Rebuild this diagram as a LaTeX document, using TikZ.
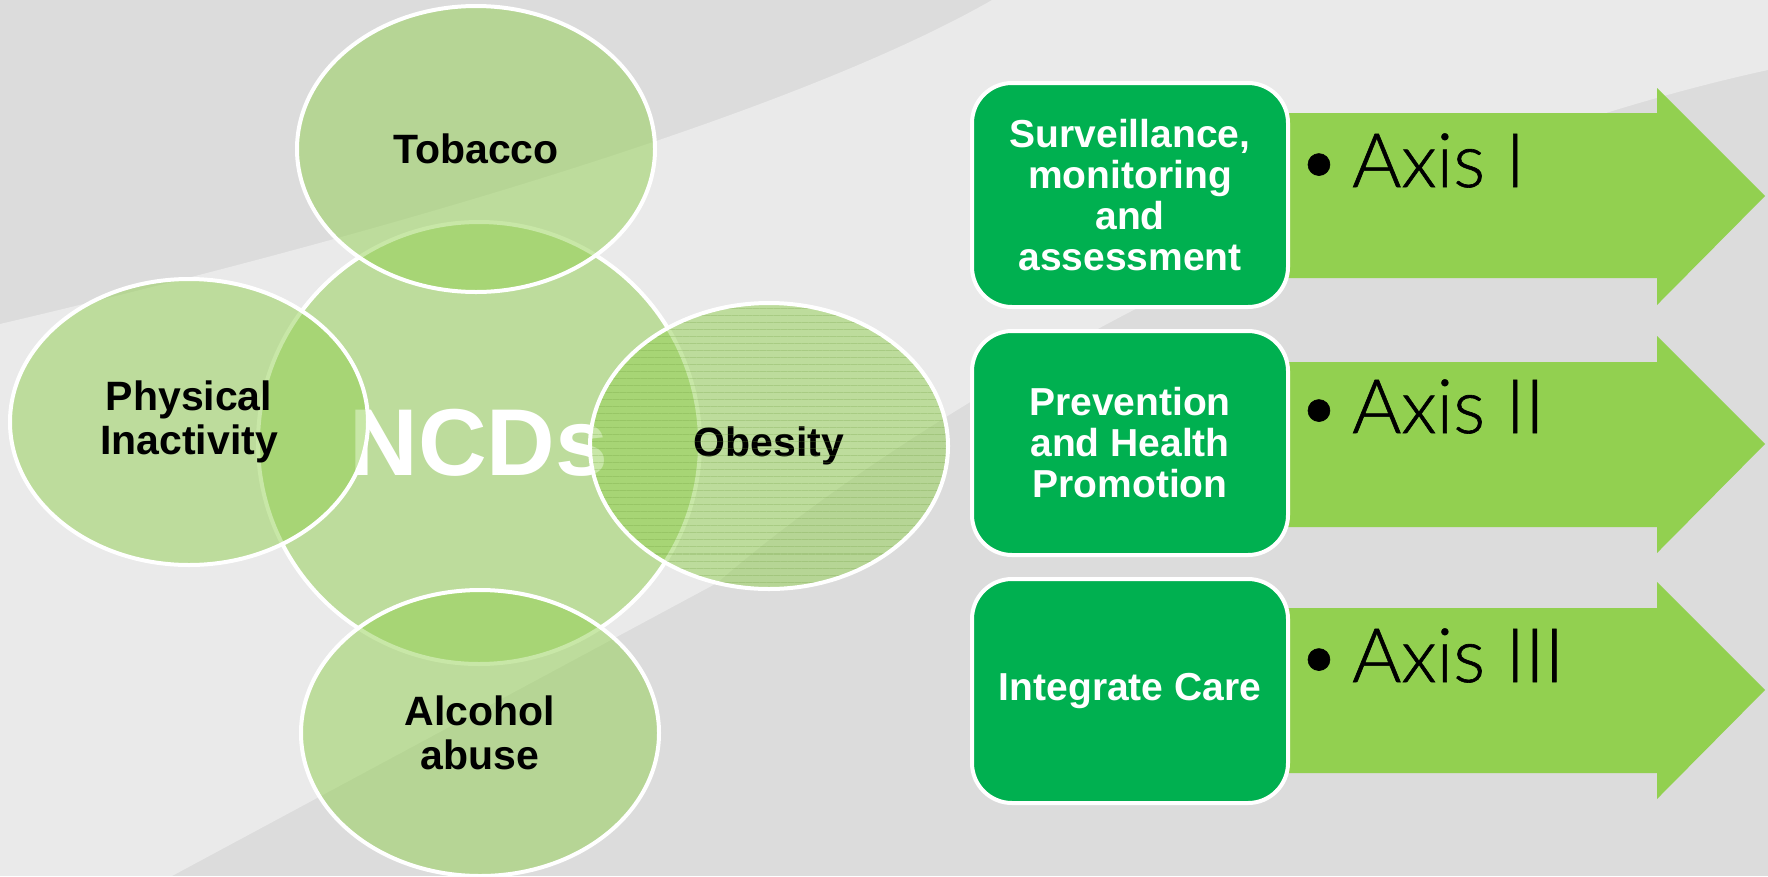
\documentclass[tikz,border=0pt]{standalone}
\usepackage{fontspec}
\setmainfont{Liberation Sans}
\newfontfamily\axisfont{Lato}[UprightFont=* Light,FakeBold=0.8]
\usetikzlibrary{shapes.geometric,patterns.meta}
\definecolor{leaf}{RGB}{146,208,80}
\definecolor{boxgreen}{RGB}{0,176,80}
\definecolor{bggray}{RGB}{220,220,220}

\begin{document}
\begin{tikzpicture}[x=1pt,y=-1pt,
  bubble/.style={ellipse,draw=white,line width=4pt,fill=leaf,fill opacity=.5,text opacity=1,
    minimum width=358pt,minimum height=286pt,inner sep=0pt,align=center,
    font=\fontsize{41}{44}\selectfont\bfseries},
  hub/.style={circle,draw=white,line width=4pt,fill=leaf,fill opacity=.5,text opacity=1,
    minimum size=442pt,inner sep=0pt,text=white,font=\fontsize{95}{95}\selectfont\bfseries},
  panel/.style={rectangle,rounded corners=40pt,draw=white,line width=4pt,fill=boxgreen,
    text=white,minimum width=316pt,minimum height=224pt,align=center,
    font=\fontsize{39}{41}\selectfont\bfseries},
  axis/.style={anchor=base west,inner sep=0pt,font=\axisfont\fontsize{75}{75}\selectfont}]
    \useasboundingbox (0,0) rectangle (1768,876);
    % background
    \fill [bggray] (0,0) rectangle (1768,876);
    \fill [white,opacity=.4] (0,324) .. controls (400,230) and (800,110) .. (992,0)
        -- (1768,0) -- (1768,70) .. controls (1400,150) and (950,380) .. (717,583)
        -- (172,876) -- (0,876) -- cycle;

    % NCDs and risk factors
    \node [hub] (ncds) at (479,443) {NCDs};
    \node [bubble] (tobacco) at (476,149) {Tobacco};
    \node [bubble] (inactivity) at (189,422) {Physical\\Inactivity};
    \node [bubble] (obesity) at (769,446) {Obesity};
    \fill [pattern={Lines[distance=7pt,angle=0,line width=1pt]},pattern color=leaf!75!black,
        opacity=.25] (obesity.center) ellipse (177pt and 141pt);
    \node [bubble] (alcohol) at (480,733) {Alcohol\\abuse};

    % axes
    \fill [leaf] (1200,113) -- (1657,113) -- (1657,88) -- (1765,196) -- (1657,305)
        -- (1657,278) -- (1200,278) -- cycle;
    \fill [leaf] (1200,362) -- (1657,362) -- (1657,336) -- (1765,444) -- (1657,553)
        -- (1657,527) -- (1200,527) -- cycle;
    \fill [leaf] (1200,608) -- (1657,608) -- (1657,582) -- (1765,690) -- (1657,799)
        -- (1657,773) -- (1200,773) -- cycle;
    \node [panel] (surveillance) at (1130,195) {Surveillance,\\monitoring\\and\\assessment};
    \node [panel] (prevention) at (1130,443) {Prevention\\and Health\\Promotion};
    \node [panel] (care) at (1130,691) {Integrate Care};
    \node [axis] (axis1) at (1297,187) {\makebox[55pt][l]{\textbullet}Axis I};
    \node [axis] (axis2) at (1297,433) {\makebox[55pt][l]{\textbullet}Axis II};
    \node [axis] (axis3) at (1297,682) {\makebox[55pt][l]{\textbullet}Axis III};
\end{tikzpicture}
\end{document}
